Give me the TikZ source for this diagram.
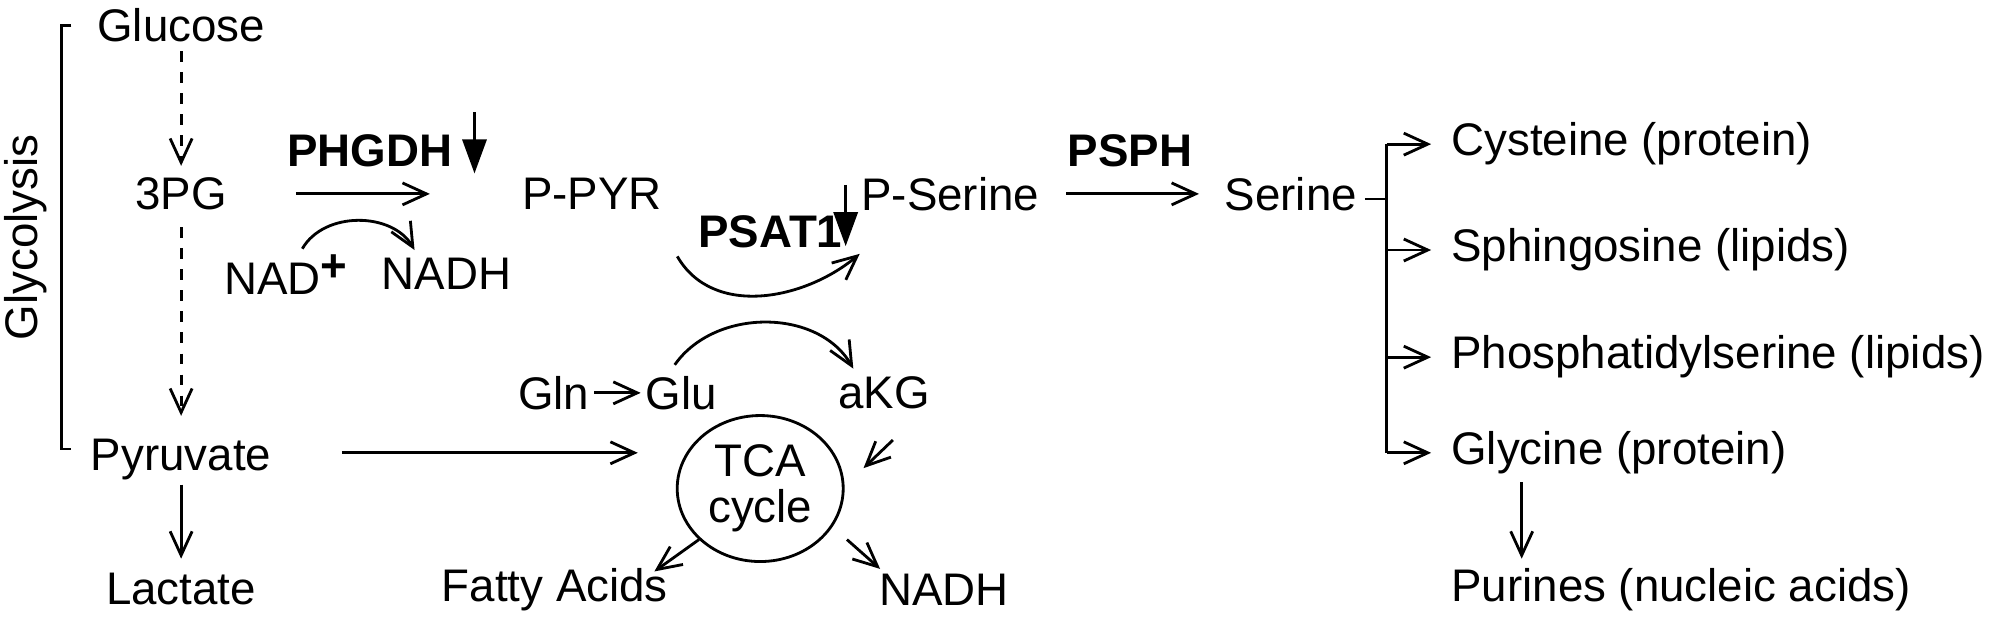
\documentclass[tikz,border=0pt]{standalone}
\usepackage{fontspec}
\setmainfont{Liberation Sans}
\usepackage{tikz}
\usetikzlibrary{arrows.meta,shapes,positioning}
\begin{document}
\begin{tikzpicture}[x=0.012755cm, y=-0.012755cm, line width=0.8pt, font=\fontsize{13}{15}\selectfont,
  met/.style={inner sep=1pt},
  enz/.style={inner sep=1pt, font=\fontsize{13}{15}\selectfont\bfseries},
  flux/.style={-{Straight Barb[length=2.4mm, width=2.2mm]}},
  block/.style={-{Triangle[length=3.4mm, width=2.4mm]}, line width=0.9pt}]
\useasboundingbox (0,0) rectangle (1568,488);
% glycolysis
\node[met](glc) at (142,20) {Glucose};
\node[met](pg) at (142,152) {3PG};
\node[met](pyr) at (142,360) {Pyruvate};
\node[met](lac) at (142,462) {Lactate};
\node[rotate=90](gly) at (20,186) {Glycolysis};
\draw (56,20) -- (48,20) -- (48,352) -- (56,352);
\draw[flux, dashed] (142,40) -- (142,130);
\draw[flux, dashed] (142,178) -- (142,326);
\draw[flux] (142,380) -- (142,438);
% serine synthesis
\node[enz](phgdh) at (290,118) {PHGDH};
\draw[block] (372,88) -- (372,136);
\draw[flux] (232,152) -- (337,152);
\node[met](nad) at (224,215) {NAD\raisebox{0.55ex}{\textbf{+}}};
\node[met](nadh) at (350,215) {NADH};
\draw[flux] (237,195) to[out=60, in=120] (325,196);
\node[met](ppyr) at (464,152) {P-PYR};
\node[enz](psat) at (604,182) {PSAT1};
\draw[block] (663,145) -- (663,193);
\node[met](pser) at (745,152) {P-Serine};
\draw[flux] (531,201) to[out=-60, in=-140] (674,199);
\node[met](gln) at (434,308) {Gln};
\node[met](glu) at (534,308) {Glu};
\node[met](akg) at (693,308) {aKG};
\draw[flux] (gln) -- (glu);
\draw[flux] (529,286) to[out=55, in=120] (669,289);
\node[enz](psph) at (886,118) {PSPH};
\node[met](ser) at (1012,152) {Serine};
\draw[flux] (836,152) -- (940,152);
% TCA
\node[draw, ellipse, minimum width=1.66cm, minimum height=1.46cm, align=center, inner sep=0pt, text width=1.1cm](tca) at (596,383) {TCA\\[-2pt]cycle};
\draw[flux] (268,355) -- (500,355);
\draw[flux] (700,345) -- (677,367);
\node[met](fa) at (435,462) {Fatty Acids};
\node[met](nadh2) at (740,462) {NADH};
\draw[flux] (548,423) -- (513,448);
\draw[flux] (664,423) -- (690,446);
% serine fates
\coordinate (hub) at (1087,156);
\draw (1070,156) -- (hub);
\draw (1087,113) -- (1087,355);
\foreach \n/\y/\t in {cys/113/Cysteine (protein), sph/196/Sphingosine (lipids), pts/280/Phosphatidylserine (lipids), gly2/355/Glycine (protein)}{
  \node[met, anchor=west](\n) at (1134,\y) {\t};
  \draw[flux] (1087,\y) -- (1122,\y);
}
\node[met, anchor=west](pur) at (1134,462) {Purines (nucleic acids)};
\draw[flux] (1193,378) -- (1193,438);
\end{tikzpicture}
\end{document}
